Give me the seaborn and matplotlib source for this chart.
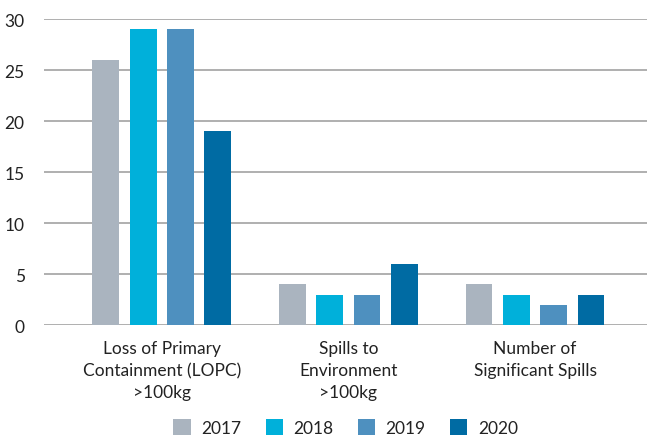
#!/usr/bin/env python3
"""
Grouped bar chart of spill indicators, 2017-2020.
"""
import pandas as pd
import seaborn as sns
import matplotlib
matplotlib.use("Agg")
import matplotlib.pyplot as plt

categories = [
    "Loss of Primary\nContainment (LOPC)\n>100kg",
    "Spills to\nEnvironment\n>100kg",
    "Number of\nSignificant Spills",
]
years = ["2017", "2018", "2019", "2020"]
values_2017 = [26, 4, 4]
values_2018 = [29, 3, 3]
values_2019 = [29, 3, 2]
values_2020 = [19, 6, 3]
colors = ["#AAB4BF", "#00B0DA", "#4E90BF", "#006BA3"]

rows = []
for year, vals in zip(years, [values_2017, values_2018, values_2019, values_2020]):
    for cat, v in zip(categories, vals):
        rows.append({"category": cat, "year": year, "value": v})
df = pd.DataFrame(rows)

sns.set_theme(style="white")
plt.rcParams["font.family"] = ["Lato", "DejaVu Sans"]

fig = plt.figure(figsize=(6.49, 4.39), dpi=100)
ax = fig.add_axes([0.068, 0.257, 0.929, 0.697])

sns.barplot(data=df, x="category", y="value", hue="year", palette=colors,
            width=0.8, gap=0.28, saturation=1, linewidth=0, ax=ax, zorder=3)

ax.set_ylim(0, 30)
ax.set_xlim(-0.63, 2.6)
ax.set_yticks([0, 5, 10, 15, 20, 25, 30])
ax.yaxis.grid(True, color="#9a9a9a", linewidth=1.1, zorder=0)
ax.set_axisbelow(True)
for s in ax.spines.values():
    s.set_visible(False)
ax.tick_params(axis="both", length=0, labelsize=12.5, colors="#222222")
ax.tick_params(axis="y", pad=14)
ax.tick_params(axis="x", pad=11)
for lbl in ax.get_xticklabels():
    lbl.set_linespacing(1.45)
ax.set_xlabel("")
ax.set_ylabel("")

ax.legend(loc="center", bbox_to_anchor=(0.5, -0.335), ncol=4, frameon=False,
          fontsize=12.5, handlelength=1.0, handleheight=1.0, columnspacing=1.4,
          handletextpad=0.6, labelcolor="#222222")

fig.savefig("out.png", dpi=100)
plt.close(fig)
